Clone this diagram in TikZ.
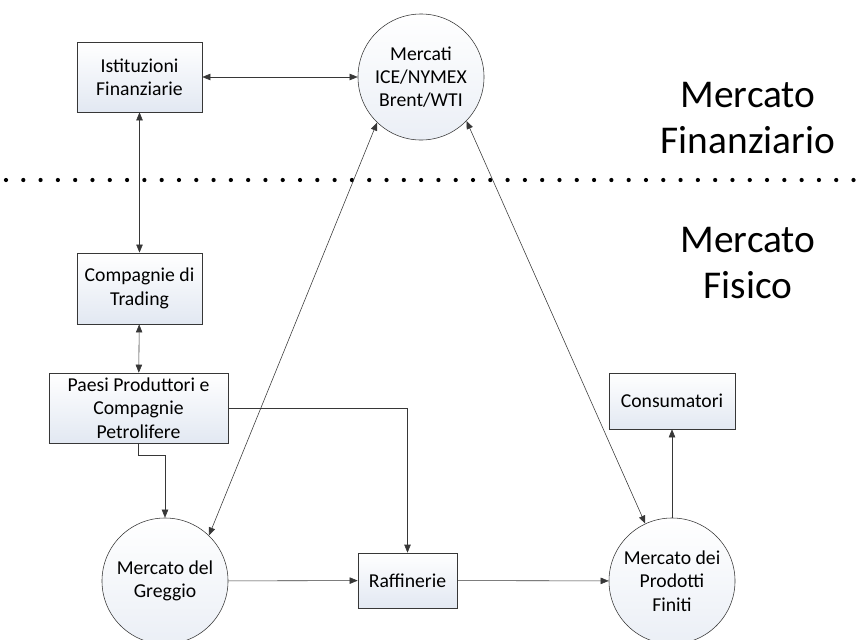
\documentclass[tikz,border=0pt]{standalone}
\usepackage{fontspec}
\setmainfont{Carlito}
\usetikzlibrary{arrows.meta,positioning}
\definecolor{linegray}{RGB}{55,55,55}
\definecolor{boxfill}{RGB}{226,232,242}
\tikzset{
  market box/.style={
    rectangle, draw=linegray, thin,
    top color=white, bottom color=boxfill, text=black, align=center,
    inner sep=2pt, font=\fontsize{14}{16.6}\selectfont
  },
  market circle/.style={
    circle, draw=linegray, thin, minimum size=3.15cm,
    top color=white, bottom color=boxfill!70, text=black, align=center,
    inner sep=0pt, font=\fontsize{14}{16.6}\selectfont
  },
  area label/.style={align=center, font=\fontsize{28}{32.5}\selectfont},
  flow arrow/.style={-{Triangle[length=2mm,width=1.6mm]}, thin, linegray},
  both arrow/.style={{Triangle[length=2mm,width=1.6mm]}-{Triangle[length=2mm,width=1.6mm]}, thin, linegray}
}
\begin{document}
\begin{tikzpicture}[x=0.025cm, y=-0.025cm]
    \useasboundingbox (0,0) rectangle (866,639);
    % financial side
    \node[market box, minimum width=3.125cm, minimum height=1.75cm] (istituzioni) at (139.5,77) {Istituzioni\\Finanziarie};
    \node[market circle] (mercati) at (421,77) {Mercati\\ICE/NYMEX\\Brent/WTI};
    \node[area label] (finanziario) at (748,118) {Mercato\\Finanziario};
    % border between the two markets
    \draw[black, line width=3pt, line cap=round, dash pattern=on 0pt off 12.3pt] (6,180) -- (862,180);
    % physical side
    \node[area label] (fisico) at (748,263) {Mercato\\Fisico};
    \node[market box, minimum width=3.125cm, minimum height=1.78cm] (trading) at (139.5,288.5) {Compagnie di\\Trading};
    \node[market box, minimum width=4.475cm, minimum height=1.75cm] (paesi) at (138.5,408) {Paesi Produttori e\\Compagnie\\Petrolifere};
    \node[market box, minimum width=3.15cm, minimum height=1.4cm] (consumatori) at (672,401) {Consumatori};
    \node[market circle] (greggio) at (165,581) {Mercato del\\Greggio};
    \node[market box, minimum width=2.475cm, minimum height=1.375cm] (raffinerie) at (407.5,580.5) {Raffinerie};
    \node[market circle] (prodotti) at (672,581) {Mercato dei\\Prodotti\\Finiti};
    % connections
    \draw[both arrow] (istituzioni) -- (mercati);
    \draw[both arrow] (istituzioni) -- (trading);
    \draw[both arrow] (trading) -- (paesi);
    \draw[flow arrow] (paesi.south) -- ++(0,12) -| (greggio.north);
    \draw[flow arrow] (paesi.east) -| (raffinerie.north);
    \draw[flow arrow] (greggio) -- (raffinerie);
    \draw[flow arrow] (raffinerie) -- (prodotti);
    \draw[flow arrow] (prodotti) -- (consumatori);
    \draw[both arrow] (greggio.46) -- (mercati.226);
    \draw[both arrow] (prodotti.115) -- (mercati.316);
\end{tikzpicture}
\end{document}
